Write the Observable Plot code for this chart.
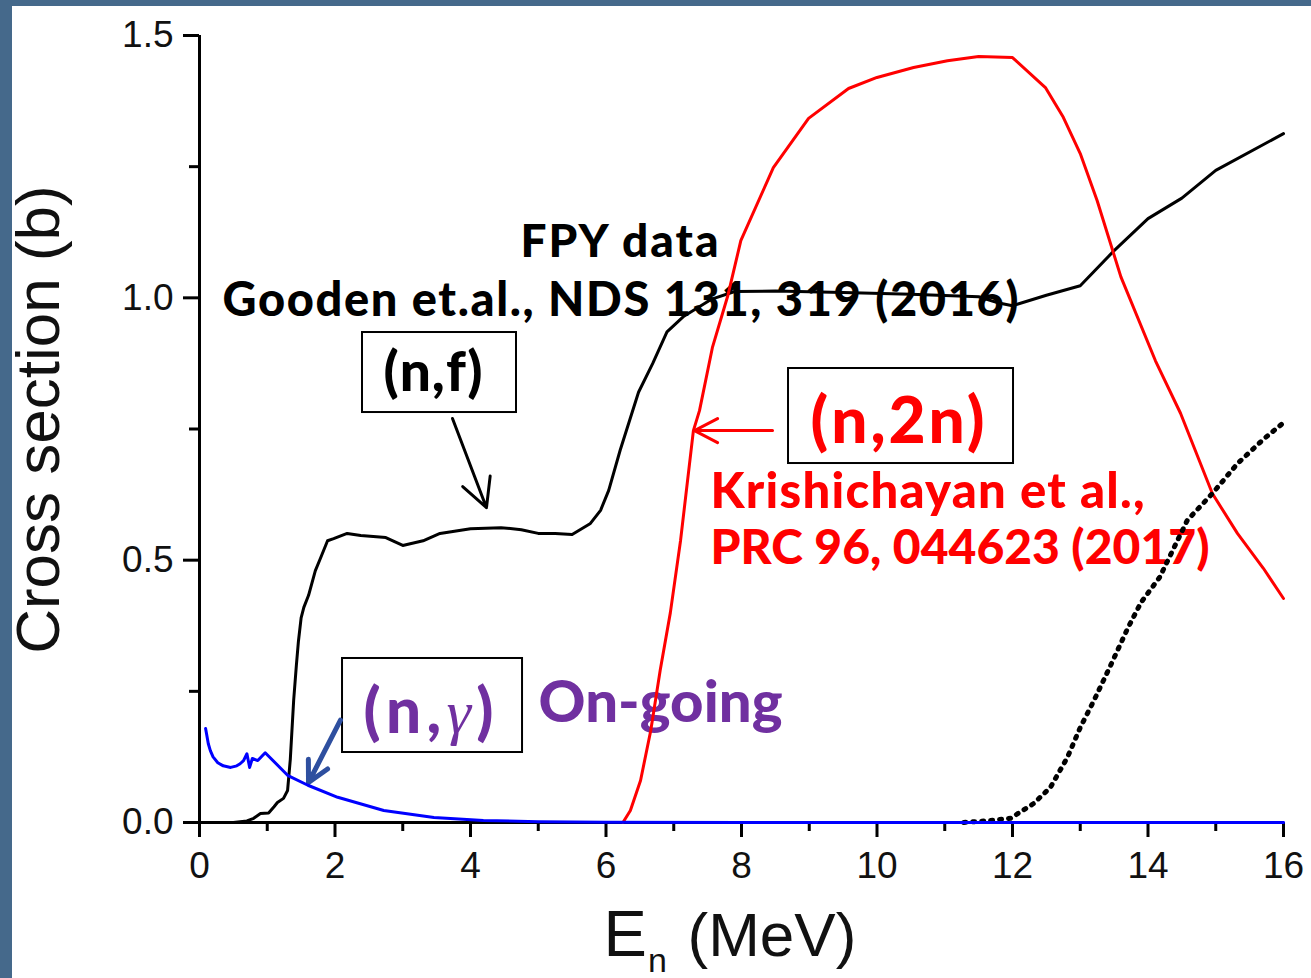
<!DOCTYPE html>
<html><head><meta charset="utf-8">
<script src="https://cdn.jsdelivr.net/npm/d3@7"></script>
<script src="https://cdn.jsdelivr.net/npm/@observablehq/plot@0.6"></script>
<style>
html,body{margin:0;padding:0;background:#45698b;width:1311px;height:978px;overflow:hidden}
#chart{position:absolute;left:12px;top:6px;width:1299px;height:972px;background:#fff}
</style></head><body><div id="chart"></div>
<script>
// (n,f) cross section
const fissionE  = [0, 0.5, 0.7, 0.8, 0.9, 1.02, 1.1, 1.15, 1.24, 1.3, 1.34, 1.39, 1.43, 1.46, 1.5, 1.54, 1.61, 1.71, 1.79, 1.89, 1.98, 2.18, 2.38, 2.75, 3.0, 3.3, 3.55, 4.0, 4.45, 4.75, 5.0, 5.25, 5.5, 5.77, 5.92, 6.04, 6.21, 6.48, 6.69, 6.9, 7.15, 7.55, 7.9, 8.5, 9.5, 10.5, 11.5, 11.8, 12.0, 12.5, 13.0, 13.5, 14.0, 14.5, 15.0, 16.0];
const fissionXS = [0, 0, 0.003, 0.008, 0.017, 0.018, 0.03, 0.038, 0.046, 0.061, 0.12, 0.233, 0.30, 0.345, 0.39, 0.41, 0.433, 0.48, 0.505, 0.537, 0.541, 0.551, 0.547, 0.543, 0.528, 0.537, 0.551, 0.560, 0.562, 0.558, 0.551, 0.551, 0.549, 0.57, 0.595, 0.633, 0.71, 0.82, 0.875, 0.935, 0.965, 0.997, 1.012, 1.013, 1.01, 1.007, 1.002, 0.99, 0.985, 1.005, 1.023, 1.09, 1.151, 1.19, 1.243, 1.313];
// (n,2n) cross section
const n2nE  = [6.25, 6.36, 6.51, 6.66, 6.8, 6.95, 7.1, 7.29, 7.38, 7.57, 7.8, 7.99, 8.47, 8.99, 9.58, 10.0, 10.54, 11.04, 11.5, 12.0, 12.49, 12.75, 13.0, 13.25, 13.6, 14.11, 14.48, 14.95, 15.32, 15.7, 16.0];
const n2nXS = [0, 0.023, 0.08, 0.175, 0.29, 0.40, 0.537, 0.747, 0.785, 0.905, 1.005, 1.109, 1.248, 1.342, 1.399, 1.42, 1.439, 1.452, 1.460, 1.458, 1.40, 1.344, 1.275, 1.185, 1.04, 0.88, 0.78, 0.627, 0.551, 0.485, 0.427];
// (n,3n) cross section (dotted)
const n3nE  = [11.28, 11.6, 11.97, 12.31, 12.56, 12.81, 13.0, 13.2, 13.45, 13.7, 13.9, 14.17, 14.58, 14.95, 15.32, 15.7, 16.0];
const n3nXS = [0, 0.003, 0.008, 0.036, 0.067, 0.124, 0.181, 0.232, 0.30, 0.37, 0.42, 0.467, 0.576, 0.627, 0.684, 0.73, 0.762];
// (n,gamma) cross section
const ngE  = [0.09, 0.13, 0.16, 0.2, 0.27, 0.35, 0.46, 0.55, 0.6, 0.65, 0.7, 0.74, 0.78, 0.86, 0.97, 1.3, 1.6, 2.04, 2.72, 3.46, 4.19, 5.0, 6.0, 8.0, 16.0];
const ngXS = [0.179, 0.15, 0.137, 0.125, 0.114, 0.108, 0.105, 0.108, 0.112, 0.118, 0.131, 0.105, 0.122, 0.118, 0.133, 0.09, 0.071, 0.048, 0.023, 0.0095, 0.004, 0.0015, 0.0005, 0.0002, 0];

const xMajorTicks = [0, 2, 4, 6, 8, 10, 12, 14, 16];
const xMinorTicks = [1, 3, 5, 7, 9, 11, 13, 15];
const yMajorTicks = [0, 0.5, 1.0, 1.5];
const yMinorTicks = [0.25, 0.75, 1.25];

const rows = (E, S) => E.map((e, i) => ({e, s: S[i]}));

const annoFont = "Lato, 'Liberation Serif', sans-serif";
const label = (txt, x, y, opts) => Plot.text([txt], {x: [x], y: [y], text: d => d, lineAnchor: "bottom", fontFamily: annoFont, fontWeight: 900, ...opts});
const box = (x1, x2, y1, y2) => Plot.rect([0], {x1: [x1], x2: [x2], y1: [y1], y2: [y2], fill: "none", stroke: "black", strokeWidth: 2});
const sans = "'Liberation Sans', Arial, sans-serif";

const plot = Plot.plot({
  width: 1299, height: 972,
  marginLeft: 187, marginRight: 28, marginTop: 29, marginBottom: 156,
  x: {domain: [0, 16], label: null},
  y: {domain: [0, 1.5], label: null},
  style: {background: "white", color: "black", fontFamily: sans, overflow: "visible"},
  marks: [
    Plot.axisX({ticks: xMajorTicks, tickSize: 15, tickPadding: 14, fontSize: 37, strokeWidth: 3, fontFamily: sans, fill: "#111", label: null}),
    Plot.axisX({ticks: xMinorTicks, tickSize: 9, tickFormat: () => "", strokeWidth: 3, label: null}),
    Plot.axisY({ticks: yMajorTicks, tickSize: 16, tickPadding: 10, tickFormat: d3.format(".1f"), fontSize: 37, strokeWidth: 3, fontFamily: sans, fill: "#111", label: null}),
    Plot.axisY({ticks: yMinorTicks, tickSize: 10, tickFormat: () => "", strokeWidth: 3, label: null}),
    Plot.ruleX([0], {y1: 0, y2: 1.5, strokeWidth: 3}),
    Plot.ruleY([0], {x1: 0, x2: 16, strokeWidth: 3}),
    // axis titles
    Plot.text(["Cross section (b)"], {x: [-2.081], y: [0.768], text: d => d, rotate: -90, lineAnchor: "bottom", textAnchor: "middle", fontSize: 62, fill: "#111"}),
    Plot.text(["E"], {x: [5.963], y: [-0.2535], text: d => d, lineAnchor: "bottom", textAnchor: "start", fontSize: 65, fill: "#111"}),
    Plot.text(["n"], {x: [6.62], y: [-0.2850], text: d => d, lineAnchor: "bottom", textAnchor: "start", fontSize: 34, fill: "#111"}),
    Plot.text(["(MeV)"], {x: [7.203], y: [-0.2535], text: d => d, lineAnchor: "bottom", textAnchor: "start", fontSize: 62, fill: "#111"}),
    // annotation boxes
    box(2.406, 4.679, 0.9339, 0.7814),
    box(8.694, 12.015, 0.8653, 0.6842),
    box(2.111, 4.768, 0.3126, 0.1334),
    // annotation texts
    label("FPY data", 6.199, 1.0787, {fontSize: 46, fill: "black", textAnchor: "middle"}),
    label("Gooden et.al., NDS 131, 319 (2016)", 6.214, 0.9663, {fontSize: 47, fill: "black", textAnchor: "middle"}),
    label("(n,f)", 3.446, 0.8233, {fontSize: 55, fill: "black", textAnchor: "middle"}),
    label("(n,2n)", 10.303, 0.7242, {fontSize: 64, fill: "#ff0000", textAnchor: "middle"}),
    label("Krishichayan et al.,", 7.542, 0.6003, {fontSize: 49, fill: "#ff0000", textAnchor: "start"}),
    label("PRC 96, 044623 (2017)", 7.542, 0.4936, {fontSize: 48, fill: "#ff0000", textAnchor: "start"}),
    label("(n,γ)", 3.380, 0.1715, {fontSize: 62, fill: "#7030a0", textAnchor: "middle"}),
    label("On-going", 5.004, 0.1906, {fontSize: 58, fill: "#7030a0", textAnchor: "start"}),
    // arrows
    Plot.arrow([0], {x1: [3.734], y1: [0.770], x2: [4.236], y2: [0.600], stroke: "black", strokeWidth: 3, headLength: 24, headAngle: 55}),
    Plot.arrow([0], {x1: [8.458], y1: [0.747], x2: [7.306], y2: [0.747], stroke: "#ff0000", strokeWidth: 3, headLength: 24, headAngle: 55}),
    Plot.arrow([0], {x1: [2.081], y1: [0.195], x2: [1.609], y2: [0.0762], stroke: "#2e4f9f", strokeWidth: 5, headLength: 24, headAngle: 55}),
    // curves
    Plot.line(rows(fissionE, fissionXS), {x: "e", y: "s", stroke: "black", strokeWidth: 3}),
    Plot.line(rows(n2nE, n2nXS), {x: "e", y: "s", stroke: "#ff0000", strokeWidth: 3}),
    Plot.line(rows(n3nE, n3nXS), {x: "e", y: "s", stroke: "black", strokeWidth: 5, strokeDasharray: "2,7", strokeLinecap: "round"}),
    Plot.line(rows(ngE, ngXS), {x: "e", y: "s", stroke: "#0000ff", strokeWidth: 3})
  ]
});
document.getElementById("chart").appendChild(plot);

// stretch annotation spacing to the widths measured on the reference (wide geometric face)
const targetWidths = {
  "FPY data": 198, "Gooden et.al., NDS 131, 319 (2016)": 796, "(n,f)": 99, "(n,2n)": 174,
  "Krishichayan et al.,": 434, "PRC 96, 044623 (2017)": 499, "(n,γ)": 130, "On-going": 244
};
d3.select(plot).selectAll("text").each(function() {
  const t = this.textContent;
  if (targetWidths[t] && this.getComputedTextLength() < targetWidths[t]) {
    this.setAttribute("textLength", targetWidths[t]);
    this.setAttribute("lengthAdjust", "spacing");
  }
  if (t === "(n,γ)") {
    const sel = d3.select(this);
    sel.text(null);
    sel.append("tspan").text("(n,");
    sel.append("tspan").attr("font-family", "'Liberation Serif', serif").attr("font-style", "italic").attr("font-weight", "normal").text("γ");
    sel.append("tspan").text(")");
  }
});
</script></body></html>
